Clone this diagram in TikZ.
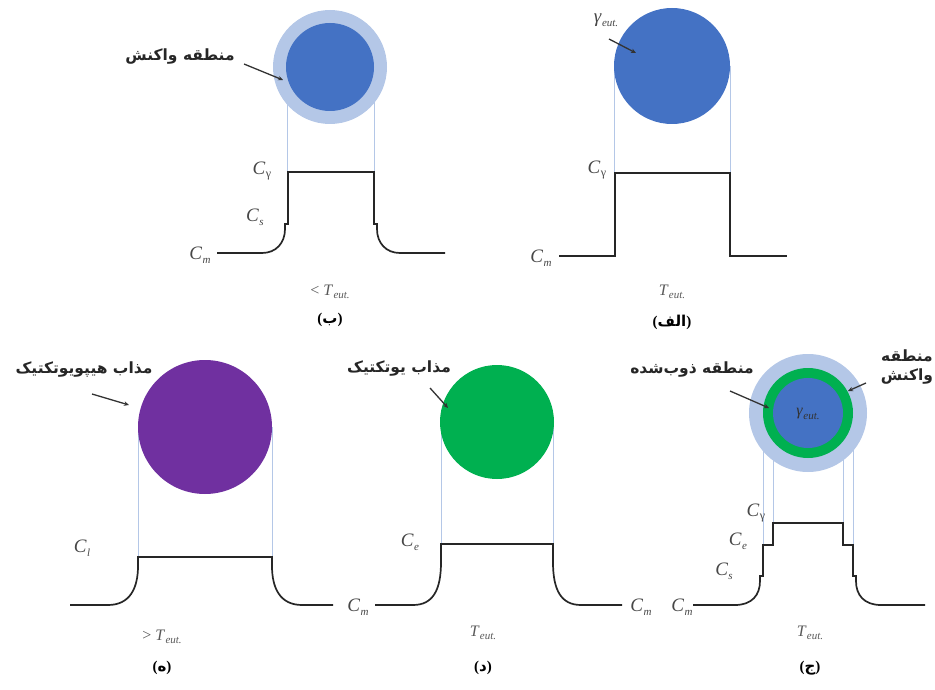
\documentclass[tikz,border=0pt]{standalone}
\usepackage{fontspec}
\setmainfont{Liberation Serif}
\newfontfamily\arabicfont[Script=Arabic]{DejaVu Sans}
\TeXXeTstate=1
\usetikzlibrary{arrows.meta}
\definecolor{cblue}{HTML}{4472C4}
\definecolor{clight}{HTML}{B4C7E7}
\definecolor{cgreen}{HTML}{00B050}
\definecolor{cpurple}{HTML}{7030A0}
\definecolor{cguide}{HTML}{B4C7E7}
\newcommand\lbl[2]{\textit{#1}\kern0.02em\raisebox{-0.45ex}{\fontsize{11}{11}\selectfont\textit{#2}}}
\newcommand\lblu[2]{\textit{#1}\kern0.02em\raisebox{-0.45ex}{\fontsize{12}{12}\selectfont #2}}
\tikzset{
 disc/.style={circle, inner sep=0pt, minimum size=#1},
 guide/.style={draw=cguide, line width=0.7pt},
 profile/.style={draw=black!85, line width=1.7pt, line join=miter},
 clab/.style={text=black!72, font=\fontsize{19}{19}\selectfont, inner sep=0},
 tlab/.style={text=black!65, font=\fontsize{16}{16}\selectfont, inner sep=0},
 plab/.style={font=\bfseries\fontsize{15}{15}\selectfont, inner sep=0},
 fa/.style={font=\arabicfont\bfseries\fontsize{15.5}{19}\selectfont, text=black!85, inner sep=0, align=center},
 pointer/.style={draw=black!80, line width=1.3pt, -{Stealth[length=5pt,width=4.5pt]}},
}
\begin{document}
\begin{tikzpicture}[x=1pt,y=-1pt]
\useasboundingbox (0,0) rectangle (935,690);

% ---------- panel (alef) ----------
\draw[guide] (614,66) -- (614,173);
\draw[guide] (730,66) -- (730,173);
\node[disc=116pt, fill=cblue] (cA) at (672,66) {};
\draw[profile] (559,256) -- (615,256) -- (615,173) -- (730,173) -- (730,256) -- (787,256);
\node[clab] (aCg) at (597,170) {\lblu{C}{γ}};
\node[clab] (aCm) at (541,258) {\lbl{C}{m}};
\node[clab] (aG) at (606,20) {\lbl{γ}{eut.}};
\coordinate (aGt) at (636,53);
\draw[pointer] (609,39) -- (aGt);
\node[tlab] (aT) at (672,292) {\lbl{T}{eut.}};
\node[plab] (aL) at (672,322) {({\arabicfont\bfseries\beginR الف\endR})};

% ---------- panel (be) ----------
\draw[guide] (287,67) -- (287,172);
\draw[guide] (374,67) -- (374,172);
\node[disc=114pt, fill=clight] (cB1) at (330,67) {};
\node[disc=88pt, fill=cblue] (cB2) at (330,67) {};
\draw[profile] (217,253) -- (262,253) .. controls (276,253) and (285,243) .. (285,229) -- (285,224) -- (288,224) -- (288,172) -- (374,172) -- (374,224) -- (377,224) -- (377,229) .. controls (377,243) and (386,253) .. (400,253) -- (445,253);
\node[clab] (bCg) at (262,171) {\lblu{C}{γ}};
\node[clab] (bCs) at (255,217) {\lbl{C}{s}};
\node[clab] (bCm) at (200,255) {\lbl{C}{m}};
\node[tlab] (bT) at (330,292) {< \lbl{T}{eut.}};
\node[plab] (bL) at (330,320) {({\arabicfont\bfseries ب})};
\node[fa] (bF) at (180,57) {\beginR منطقه واکنش\endR};
\coordinate (bFt) at (283,80);
\draw[pointer] (244,64) -- (bFt);

% ---------- panel (he) ----------
\draw[guide] (138,427) -- (138,557);
\draw[guide] (272,427) -- (272,557);
\node[disc=134pt, fill=cpurple] (cH) at (205,427) {};
\draw[profile] (70,605) -- (108,605) .. controls (130,605) and (138,588) .. (138,566) -- (138,557) -- (272,557) -- (272,566) .. controls (272,588) and (280,605) .. (302,605) -- (333,605);
\node[clab] (hCl) at (82,548) {\lbl{C}{l}};
\node[tlab] (hT) at (162,637) {> \lbl{T}{eut.}};
\node[plab] (hL) at (162,668) {({\arabicfont\bfseries ه})};
\node[fa] (hF) at (84,370) {\beginR مذاب هیپویوتکتیک\endR};
\coordinate (hFt) at (129,405);
\draw[pointer] (92,394) -- (hFt);

% ---------- panel (dal) ----------
\draw[guide] (441,422) -- (441,544);
\draw[guide] (553,422) -- (553,544);
\node[disc=114pt, fill=cgreen] (cD) at (497,422) {};
\draw[profile] (375,605) -- (413,605) .. controls (433,605) and (441,590) .. (441,562) -- (441,544) -- (553,544) -- (553,562) .. controls (553,590) and (561,605) .. (581,605) -- (622,605);
\node[clab] (dCe) at (410,542) {\lbl{C}{e}};
\node[clab] (dCm) at (358,607) {\lbl{C}{m}};
\node[clab] (dCm2) at (641,607) {\lbl{C}{m}};
\node[tlab] (dT) at (483,633) {\lbl{T}{eut.}};
\node[plab] (dL) at (483,668) {({\arabicfont\bfseries د})};
\node[fa] (dF) at (399,369) {\beginR مذاب یوتکتیک\endR};
\coordinate (dFt) at (448,408);
\draw[pointer] (430,388) -- (dFt);

% ---------- panel (jim) ----------
\draw[guide] (763,413) -- (763,545);
\draw[guide] (853,413) -- (853,545);
\draw[guide] (773,413) -- (773,523);
\draw[guide] (843,413) -- (843,523);
\node[disc=118pt, fill=clight] (cJ1) at (808,413) {};
\node[disc=90pt, fill=cgreen] (cJ2) at (808,413) {};
\node[disc=70pt, fill=cblue] (cJ3) at (808,413) {};
\draw[guide] (763,460) -- (763,545);
\draw[guide] (853,460) -- (853,545);
\draw[guide] (773,445) -- (773,523);
\draw[guide] (843,445) -- (843,523);
\node[clab, font=\fontsize{16}{16}\selectfont, text=black!80] (jG) at (808,414) {\lbl{γ}{eut.}};
\draw[profile] (693,605) -- (735,605) .. controls (752,605) and (760,595) .. (760,581) -- (760,576) -- (763,576) -- (763,545) -- (773,545) -- (773,523) -- (843,523) -- (843,545) -- (853,545) -- (853,576) -- (856,576) -- (856,581) .. controls (856,595) and (864,605) .. (881,605) -- (925,605);
\node[clab] (jCg) at (756,513) {\lblu{C}{γ}};
\node[clab] (jCe) at (738,541) {\lbl{C}{e}};
\node[clab] (jCs) at (724,571) {\lbl{C}{s}};
\node[clab] (jCm) at (682,607) {\lbl{C}{m}};
\node[tlab] (jT) at (810,633) {\lbl{T}{eut.}};
\node[plab] (jL) at (810,668) {({\arabicfont\bfseries ج})};
\node[fa] (jF1) at (692,370) {\beginR منطقه ذوب‌شده\endR};
\coordinate (jF1t) at (769,408);
\draw[pointer] (730,391) -- (jF1t);
\node[fa] (jF2) at (907,367) {\beginR منطقه\endR\\\beginR واکنش\endR};
\coordinate (jF2t) at (848,391);
\draw[pointer] (866,383) -- (jF2t);
\end{tikzpicture}
\end{document}
